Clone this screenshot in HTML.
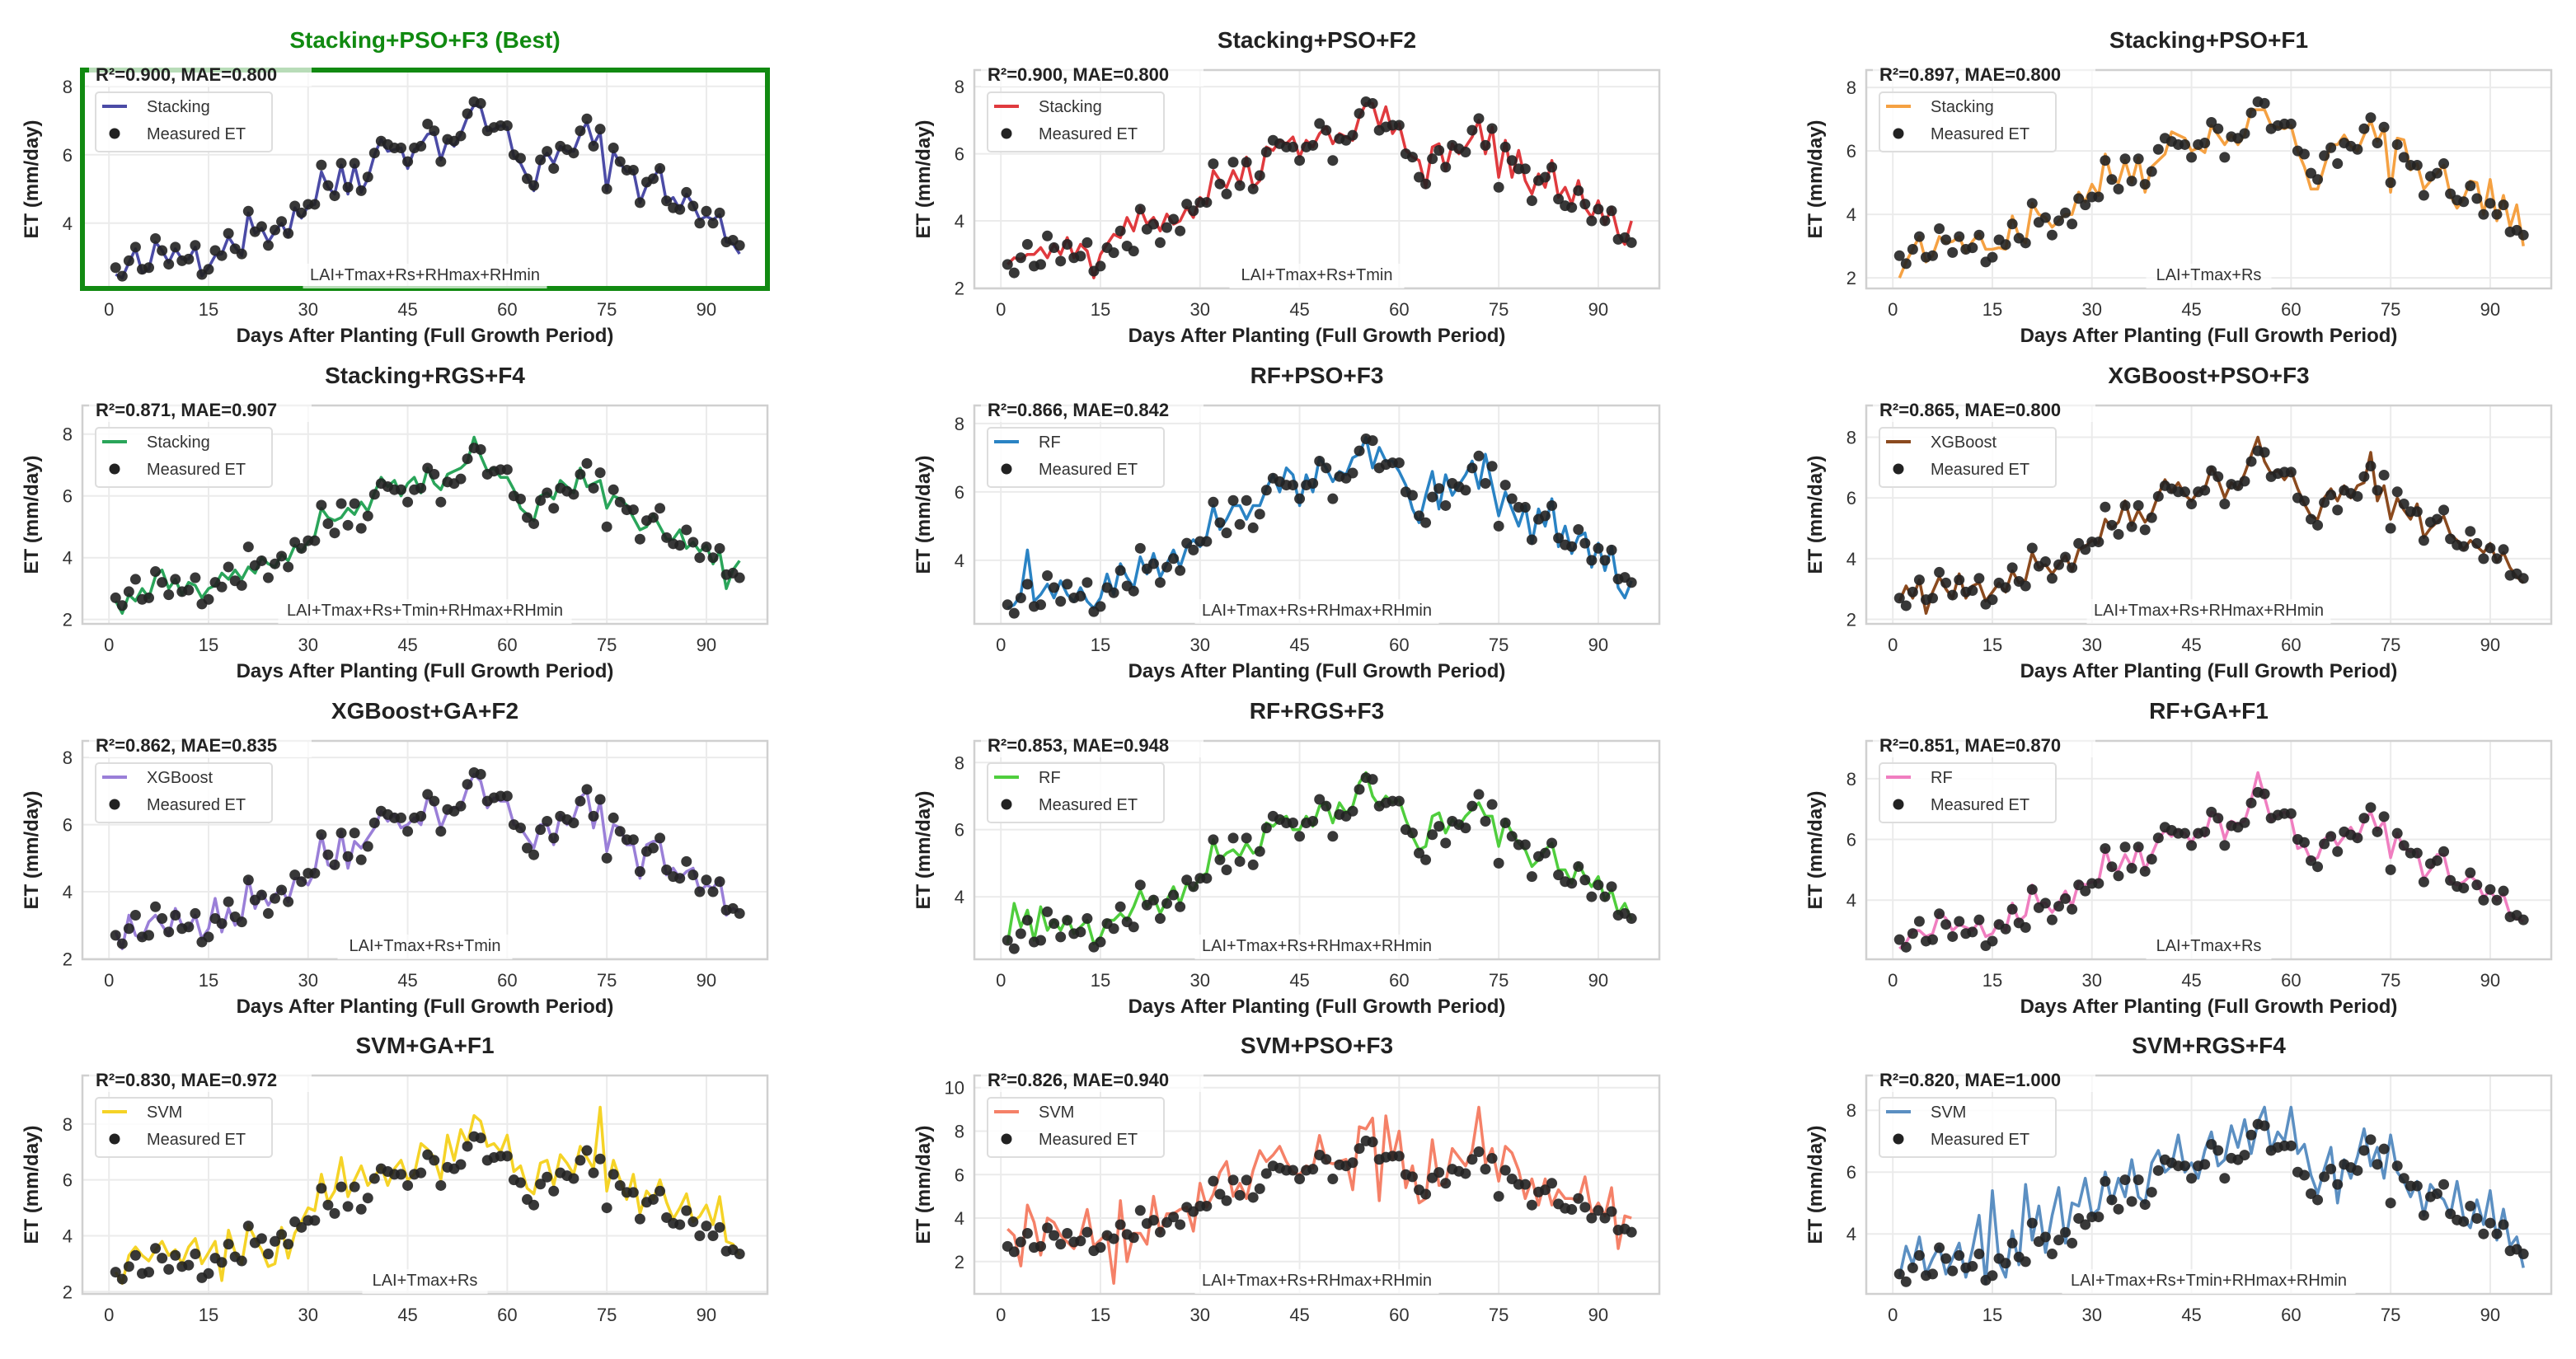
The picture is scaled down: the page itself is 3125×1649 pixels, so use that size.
<!DOCTYPE html>
<html><head><meta charset="utf-8">
<style>
html,body{margin:0;padding:0;background:#fff;}
svg{display:block;font-family:"Liberation Sans",Arial,sans-serif;}
</style></head>
<body>
<svg id="chart" width="3125" height="1649" viewBox="0 0 3125 1649"></svg>
<script>
const days = [1,2,3,4,5,6,7,8,9,10,11,12,13,14,15,16,17,18,19,20,21,22,23,24,25,26,27,28,29,30,31,32,33,34,35,36,37,38,39,40,41,42,43,44,45,46,47,48,49,50,51,52,53,54,55,56,57,58,59,60,61,62,63,64,65,66,67,68,69,70,71,72,73,74,75,76,77,78,79,80,81,82,83,84,85,86,87,88,89,90,91,92,93,94,95];
const measured = [2.7,2.45,2.9,3.3,2.65,2.7,3.55,3.2,2.8,3.3,2.9,2.95,3.35,2.5,2.65,3.2,3.05,3.7,3.25,3.1,4.35,3.75,3.9,3.35,3.8,4.05,3.7,4.5,4.3,4.55,4.55,5.7,5.1,4.8,5.75,5.05,5.75,4.95,5.35,6.05,6.4,6.3,6.2,6.2,5.8,6.2,6.25,6.9,6.7,5.8,6.45,6.4,6.55,7.2,7.55,7.5,6.7,6.8,6.85,6.85,6.0,5.9,5.3,5.1,5.85,6.1,5.6,6.25,6.15,6.05,6.7,7.05,6.25,6.75,5.0,6.2,5.8,5.55,5.55,4.6,5.2,5.3,5.6,4.65,4.45,4.4,4.9,4.5,4.0,4.35,4.0,4.3,3.45,3.5,3.35];
const predStackingF3 = [2.5,2.4,2.85,3.25,2.55,2.65,3.45,3.2,2.85,3.25,2.95,2.95,3.3,2.45,2.7,3.05,3.1,3.6,3.3,3.05,4.3,3.7,3.85,3.45,3.75,4.0,3.6,4.45,4.15,4.5,4.55,5.5,5.05,4.85,5.7,4.85,5.7,4.9,5.3,6.0,6.45,6.1,6.15,6.2,5.6,6.15,6.3,6.6,6.65,5.85,6.45,6.25,6.6,7.1,7.45,7.4,6.7,6.75,6.85,6.8,5.95,5.75,5.35,4.95,5.8,6.05,5.75,6.25,6.1,6.1,6.6,6.95,6.3,6.65,4.95,6.1,5.75,5.5,5.55,4.6,5.1,5.3,5.65,4.6,4.75,4.4,4.85,4.55,4.1,4.2,4.1,4.25,3.45,3.4,3.1];
const predStackingF2 = [2.7,2.9,2.85,3.0,3.0,3.2,2.9,3.3,3.0,3.5,2.9,3.3,3.1,2.3,3.0,3.3,3.6,3.5,4.1,3.7,4.4,3.9,4.1,3.7,4.2,3.9,4.0,4.4,4.1,4.7,4.5,5.5,5.2,5.0,5.5,5.1,5.9,5.0,5.2,6.2,6.1,6.4,6.3,6.5,5.9,6.4,6.2,6.6,6.8,6.3,6.6,6.5,6.4,7.1,7.5,7.5,6.8,7.4,6.6,6.9,6.1,5.9,5.8,5.0,6.2,6.3,5.5,6.3,6.0,6.2,6.5,7.0,6.0,6.8,5.3,6.4,5.3,6.1,5.2,4.8,5.4,5.0,5.8,4.7,5.0,4.5,5.2,4.4,4.1,4.6,3.9,4.4,3.6,3.3,4.0];
const predStackingF1 = [2.0,2.5,2.9,3.3,2.5,2.7,3.3,3.1,3.15,3.3,2.8,3.15,3.4,2.9,2.9,2.95,2.9,3.95,3.3,3.1,4.35,4.0,3.9,3.6,3.8,4.0,4.0,4.7,4.4,4.95,4.6,5.9,5.1,5.0,5.7,5.0,5.8,4.7,5.5,5.7,5.9,6.6,6.5,6.4,6.0,6.1,5.95,6.8,6.5,6.2,6.5,6.2,6.5,7.3,7.3,7.3,6.8,6.75,6.7,6.8,6.0,5.5,4.8,4.8,5.5,6.2,6.2,6.5,6.15,6.0,6.5,6.95,6.3,6.7,4.7,6.4,6.35,5.4,5.6,4.8,5.05,5.3,5.55,4.6,4.2,4.5,5.05,5.0,4.0,5.1,3.8,4.6,3.6,4.3,3.0];
const predStackingRgsF4 = [2.6,2.2,2.8,2.6,3.0,2.7,3.4,3.6,3.0,3.3,2.8,3.2,3.1,2.7,3.0,3.1,3.5,3.3,3.6,3.3,3.7,3.5,4.0,3.8,3.7,4.1,3.9,4.4,4.2,4.5,4.7,5.6,5.3,5.2,5.3,5.6,5.4,5.8,5.5,6.1,6.6,6.3,6.5,6.0,6.4,6.6,6.1,6.9,6.4,6.2,6.7,6.8,6.9,7.1,7.9,7.3,6.8,6.9,6.6,6.6,6.2,5.6,5.4,5.2,6.0,6.1,5.9,6.5,6.3,6.1,6.9,6.3,6.4,6.5,5.6,6.0,5.9,5.7,5.3,4.9,5.0,5.4,5.0,4.6,4.6,4.9,4.3,4.5,4.2,4.4,3.8,4.2,3.0,3.6,3.9];
const predRfPsoF3 = [2.6,2.7,3.0,4.3,2.8,3.0,3.3,2.9,3.4,3.0,2.8,3.2,2.8,2.6,2.9,3.6,3.0,3.9,3.5,3.2,4.1,3.6,4.2,3.5,3.9,4.3,3.8,4.4,4.6,4.4,4.7,5.6,4.9,5.2,5.6,5.6,5.2,5.6,5.6,6.1,6.5,6.0,6.7,6.5,5.6,6.5,6.0,7.0,6.7,6.3,6.6,6.5,7.0,7.1,7.6,6.7,7.3,6.9,6.9,6.6,6.2,5.5,5.1,5.9,6.6,5.5,6.5,5.9,6.2,6.5,6.9,6.1,7.1,6.2,5.3,6.0,5.5,5.0,5.6,4.5,5.5,5.0,5.8,4.4,5.0,4.2,4.7,4.8,3.8,4.5,3.7,4.4,3.2,2.9,3.4];
const predXgbPsoF3 = [2.6,3.1,2.7,3.3,2.2,2.9,3.4,3.0,2.7,3.5,2.7,3.1,3.2,2.6,2.9,3.2,2.9,3.6,3.2,3.3,4.2,3.7,3.8,3.5,3.8,4.1,3.6,4.3,4.4,4.6,4.5,5.3,5.0,5.2,5.9,5.1,5.6,5.2,5.5,6.1,6.6,6.2,6.5,6.1,5.9,6.2,6.3,7.0,6.6,6.0,6.5,6.3,6.8,7.4,8.0,7.2,6.8,6.9,6.6,6.9,6.3,5.8,5.4,5.3,6.0,6.3,5.9,6.4,6.0,6.4,6.5,7.5,5.9,6.4,5.3,6.0,5.6,5.3,5.8,4.7,5.0,5.2,5.4,4.8,4.6,4.3,4.6,4.4,4.2,4.5,3.9,4.2,3.7,3.4,3.2];
const predXgbGaF2 = [2.8,2.3,3.3,2.7,2.6,3.1,3.3,3.0,2.7,3.5,3.0,2.9,3.3,2.6,2.9,3.8,2.8,3.5,3.0,3.2,4.4,3.5,4.0,3.6,3.9,4.1,3.7,4.4,4.4,4.2,4.6,5.7,4.8,4.7,5.8,4.7,5.5,5.3,5.6,5.9,6.4,6.1,6.3,5.9,6.0,6.2,6.0,6.8,6.6,5.9,6.4,6.5,6.5,7.1,7.5,7.3,6.5,6.8,6.7,6.7,6.0,5.9,5.6,5.3,6.0,6.0,5.4,6.3,6.0,6.2,6.8,7.0,5.9,6.7,5.2,6.0,5.9,5.4,5.4,4.4,5.4,5.5,5.5,4.5,4.7,4.4,4.6,4.7,4.0,4.2,4.1,4.4,3.3,3.5,3.4];
const predRfRgsF3 = [2.6,3.8,3.1,3.6,2.7,3.7,3.0,3.3,3.0,3.4,2.9,3.1,3.3,2.6,2.8,3.3,3.3,3.5,3.3,3.7,4.2,3.7,4.0,3.5,3.9,4.3,3.8,4.4,4.2,4.6,4.7,5.7,5.1,5.3,5.4,5.2,5.6,5.3,5.4,6.2,6.1,6.3,6.4,6.0,6.0,6.4,6.1,6.7,6.8,6.2,6.8,6.5,6.7,7.4,7.7,7.0,6.7,7.0,6.8,6.9,6.3,5.8,5.4,5.5,6.4,6.5,5.9,6.3,6.1,6.4,6.6,6.8,6.4,6.4,5.5,6.3,5.9,5.6,5.4,4.9,5.1,5.4,5.6,4.8,4.8,4.4,5.0,4.6,4.3,4.6,3.9,4.2,3.5,3.8,3.3];
const predRfGaF1 = [2.4,2.6,3.0,3.0,2.8,2.9,3.6,3.4,3.0,3.2,3.1,3.0,3.3,2.8,2.9,3.3,3.0,3.9,3.3,3.5,4.5,3.9,3.9,3.6,3.9,4.3,3.8,4.6,4.5,4.6,4.6,5.7,5.0,5.0,5.5,5.1,5.8,5.0,5.5,6.0,6.3,6.1,6.3,6.2,5.9,6.3,6.1,6.9,6.8,6.0,6.6,6.5,6.6,7.3,8.2,7.4,6.6,6.8,6.9,6.7,5.7,5.8,5.3,5.4,6.0,6.2,5.8,6.1,6.4,6.0,6.6,6.9,6.3,6.6,5.4,6.2,5.7,5.6,5.6,4.7,5.0,5.5,5.5,4.6,4.5,4.6,4.8,4.6,4.1,4.3,4.0,4.2,3.5,3.4,3.3];
const predSvmGaF1 = [2.7,2.3,3.3,3.6,3.3,3.1,3.5,3.8,3.3,3.5,3.0,3.6,3.9,3.0,3.4,3.8,2.4,4.2,3.4,3.0,4.4,3.9,3.5,2.9,3.0,4.3,3.2,4.1,4.5,5.0,4.9,6.2,5.2,5.6,6.8,5.4,6.0,6.5,5.8,6.1,6.5,5.8,6.4,6.7,6.0,6.2,7.3,7.1,6.8,6.0,7.6,6.7,7.8,7.3,8.3,8.1,7.2,7.3,7.0,7.6,6.3,6.5,5.7,5.5,6.6,6.7,5.8,6.9,6.6,6.2,7.2,6.8,6.4,8.6,5.6,6.7,6.0,5.3,6.2,4.8,5.6,5.3,6.0,5.2,4.6,5.0,5.5,4.5,4.7,5.1,4.4,5.4,3.8,3.7,3.3];
const predSvmPsoF3 = [3.5,3.2,1.8,4.6,3.8,2.3,4.0,3.8,3.2,2.9,2.6,3.2,4.4,2.7,3.0,3.3,1.0,4.8,2.0,3.3,3.3,2.8,5.0,3.3,4.2,4.2,4.4,4.5,3.4,5.6,4.5,5.1,6.1,6.6,5.0,5.6,4.9,6.2,7.1,6.6,6.9,7.3,6.6,6.1,6.0,6.4,6.3,7.8,6.6,6.5,6.6,6.7,5.3,8.2,8.1,8.6,4.8,8.7,6.7,8.0,5.4,6.4,4.7,4.9,7.6,5.5,5.6,7.2,6.8,6.4,7.1,9.1,6.5,7.2,5.7,7.3,7.0,6.2,4.9,5.8,4.6,5.8,4.6,5.3,4.9,4.9,4.8,5.9,4.2,4.7,4.1,5.4,2.6,4.1,4.0];
const predSvmRgsF4 = [2.6,3.6,3.0,3.9,2.7,3.2,3.6,2.7,3.2,3.7,2.6,3.5,4.6,2.4,5.4,3.1,2.6,4.1,3.0,5.6,3.8,4.9,3.4,4.6,5.5,3.7,5.0,4.9,5.8,4.6,4.8,6.0,5.0,5.8,5.2,6.4,5.2,5.0,6.3,6.7,6.0,6.2,7.2,6.0,6.3,5.8,6.7,7.3,6.2,6.4,7.5,6.8,7.7,6.6,7.6,8.1,6.7,7.3,7.0,8.1,6.6,6.9,5.9,5.3,6.1,6.8,5.0,6.4,5.8,6.5,7.4,6.2,6.8,5.8,7.2,6.0,5.7,5.2,5.7,4.6,5.6,5.3,5.1,4.6,5.7,4.5,4.2,5.1,4.3,5.4,3.8,4.8,3.6,3.9,2.9];
const xTicks = [0,15,30,45,60,75,90];
const titles = ["Stacking+PSO+F3 (Best)","Stacking+PSO+F2","Stacking+PSO+F1","Stacking+RGS+F4","RF+PSO+F3","XGBoost+PSO+F3","XGBoost+GA+F2","RF+RGS+F3","RF+GA+F1","SVM+GA+F1","SVM+PSO+F3","SVM+RGS+F4"];
const modelNames = ["Stacking","Stacking","Stacking","Stacking","RF","XGBoost","XGBoost","RF","RF","SVM","SVM","SVM"];
const r2Values = ["0.900","0.900","0.897","0.871","0.866","0.865","0.862","0.853","0.851","0.830","0.826","0.820"];
const maeValues = ["0.800","0.800","0.800","0.907","0.842","0.800","0.835","0.948","0.870","0.972","0.940","1.000"];
const featureSets = ["LAI+Tmax+Rs+RHmax+RHmin","LAI+Tmax+Rs+Tmin","LAI+Tmax+Rs","LAI+Tmax+Rs+Tmin+RHmax+RHmin","LAI+Tmax+Rs+RHmax+RHmin","LAI+Tmax+Rs+RHmax+RHmin","LAI+Tmax+Rs+Tmin","LAI+Tmax+Rs+RHmax+RHmin","LAI+Tmax+Rs","LAI+Tmax+Rs","LAI+Tmax+Rs+RHmax+RHmin","LAI+Tmax+Rs+Tmin+RHmax+RHmin"];
const predictions = [predStackingF3,predStackingF2,predStackingF1,predStackingRgsF4,predRfPsoF3,predXgbPsoF3,predXgbGaF2,predRfRgsF3,predRfGaF1,predSvmGaF1,predSvmPsoF3,predSvmRgsF4];
const lineColors = ["#4b4ba6","#e03a3e","#f5a142","#2aa55a","#2a83c4","#8b4a1e","#9a7fd8","#4fce3d","#f07ec0","#f5d327","#f58168","#5b8fc2"];

const NS = "http://www.w3.org/2000/svg";
const svg = document.getElementById('chart');
function mk(tag, attrs, parent){const e=document.createElementNS(NS,tag);for(const k in attrs)e.setAttribute(k,attrs[k]);(parent||svg).appendChild(e);return e;}
const colX = [100,1182,2264], W = 831;
const rowY = [85,492,899,1305], H = 265;
const xMin=-4, xMax=99.2;

for(let p=0;p<12;p++){
  const L = colX[p%3], T = rowY[Math.floor(p/3)];
  const g = mk('g',{});
  
  
  const pred = predictions[p];
  const all = measured.concat(pred);
  const mn = Math.min(...all), mx = Math.max(...all), rg = mx-mn;
  const yMin = mn - 0.06*rg, yMax = mx + 0.18*rg;
  const sx = d => L + (d-xMin)/(xMax-xMin)*W;
  const sy = v => T + H - (v-yMin)/(yMax-yMin)*H;
  mk('rect',{x:L,y:T,width:W,height:H,fill:'#fff'},g);
  // grid
  for(const t of xTicks){
    const gl = mk('line',{x1:sx(t),x2:sx(t),y1:T,y2:T+H,stroke:'#ebebeb','stroke-width':2},g);
    
    
    const tl = mk('text',{x:sx(t),y:T+H+33,'font-size':22,fill:'#333','text-anchor':'middle'},g);
    tl.textContent = t;
    
    
  }
  for(let t=Math.ceil(yMin/2)*2;t<=yMax;t+=2){
    const gl = mk('line',{x1:L,x2:L+W,y1:sy(t),y2:sy(t),stroke:'#ebebeb','stroke-width':2},g);
    
    
    const tl = mk('text',{x:L-12,y:sy(t)+8,'font-size':22,fill:'#333','text-anchor':'end'},g);
    tl.textContent = t;
    
    
  }
  // line
  const pts = days.map((d,i)=>sx(d).toFixed(1)+','+sy(pred[i]).toFixed(1)).join(' ');
  const pl = mk('polyline',{points:pts,fill:'none',stroke:lineColors[p],'stroke-width':3.5,'stroke-linejoin':'round'},g);
  
  
  for(let i=0;i<days.length;i++){
    const c = mk('circle',{cx:sx(days[i]),cy:sy(measured[i]),r:6.5,fill:'#222','fill-opacity':0.9},g);
    
    
  }
  // frame
  const best = p===0;
  const fr = mk('rect',{x:L,y:T,width:W,height:H,fill:'none',stroke:best?'#118a11':'#d0d0d0','stroke-width':best?6:2.5},g);
  
  
  // title
  const tt = mk('text',{x:L+W/2,y:T-27,'font-size':28,'font-weight':'bold',fill:best?'#118a11':'#222','text-anchor':'middle'},g);
  tt.textContent = titles[p];
  
  
  // metrics
  mk('rect',{x:L+8,y:T-8,width:270,height:28,fill:'#fff','fill-opacity':0.7},g);
  const mt = mk('text',{x:L+16,y:T+13,'font-size':22,'font-weight':'bold',fill:'#222'},g);
  mt.textContent = 'R²='+r2Values[p]+', MAE='+maeValues[p];
  
  
  // legend
  const lg = mk('g',{},g);
  
  
  mk('rect',{x:L+16,y:T+27,width:214,height:72,rx:4,fill:'#fff','fill-opacity':0.85,stroke:'#ddd','stroke-width':2},lg);
  mk('line',{x1:L+24,x2:L+54,y1:T+44,y2:T+44,stroke:lineColors[p],'stroke-width':4},lg);
  const l1 = mk('text',{x:L+78,y:T+51,'font-size':20,fill:'#333'},lg);
  l1.textContent = modelNames[p];
  
  
  mk('circle',{cx:L+39,cy:T+77,r:6.5,fill:'#222'},lg);
  const l2 = mk('text',{x:L+78,y:T+84,'font-size':20,fill:'#333'},lg);
  l2.textContent = 'Measured ET';
  
  
  // features
  const fw = featureSets[p].length*12+20;
  mk('rect',{x:L+W/2-fw/2,y:T+H-30,width:fw,height:30,fill:'#fff','fill-opacity':0.7},g);
  const ft = mk('text',{x:L+W/2,y:T+H-10,'font-size':20,fill:'#333','text-anchor':'middle'},g);
  ft.textContent = featureSets[p];
  
  
  // axis labels
  const yl = mk('text',{x:0,y:0,'font-size':24,'font-weight':'bold',fill:'#222','text-anchor':'middle',transform:'translate('+(L-54)+','+(T+H/2)+') rotate(-90)'},g);
  yl.textContent = 'ET (mm/day)';
  
  
  if(p<9){
    const xl = mk('text',{x:L+W/2,y:T+H+65,'font-size':24,'font-weight':'bold',fill:'#222','text-anchor':'middle'},g);
    xl.textContent = 'Days After Planting (Full Growth Period)';
    
    
  }
}
</script>
</body></html>
